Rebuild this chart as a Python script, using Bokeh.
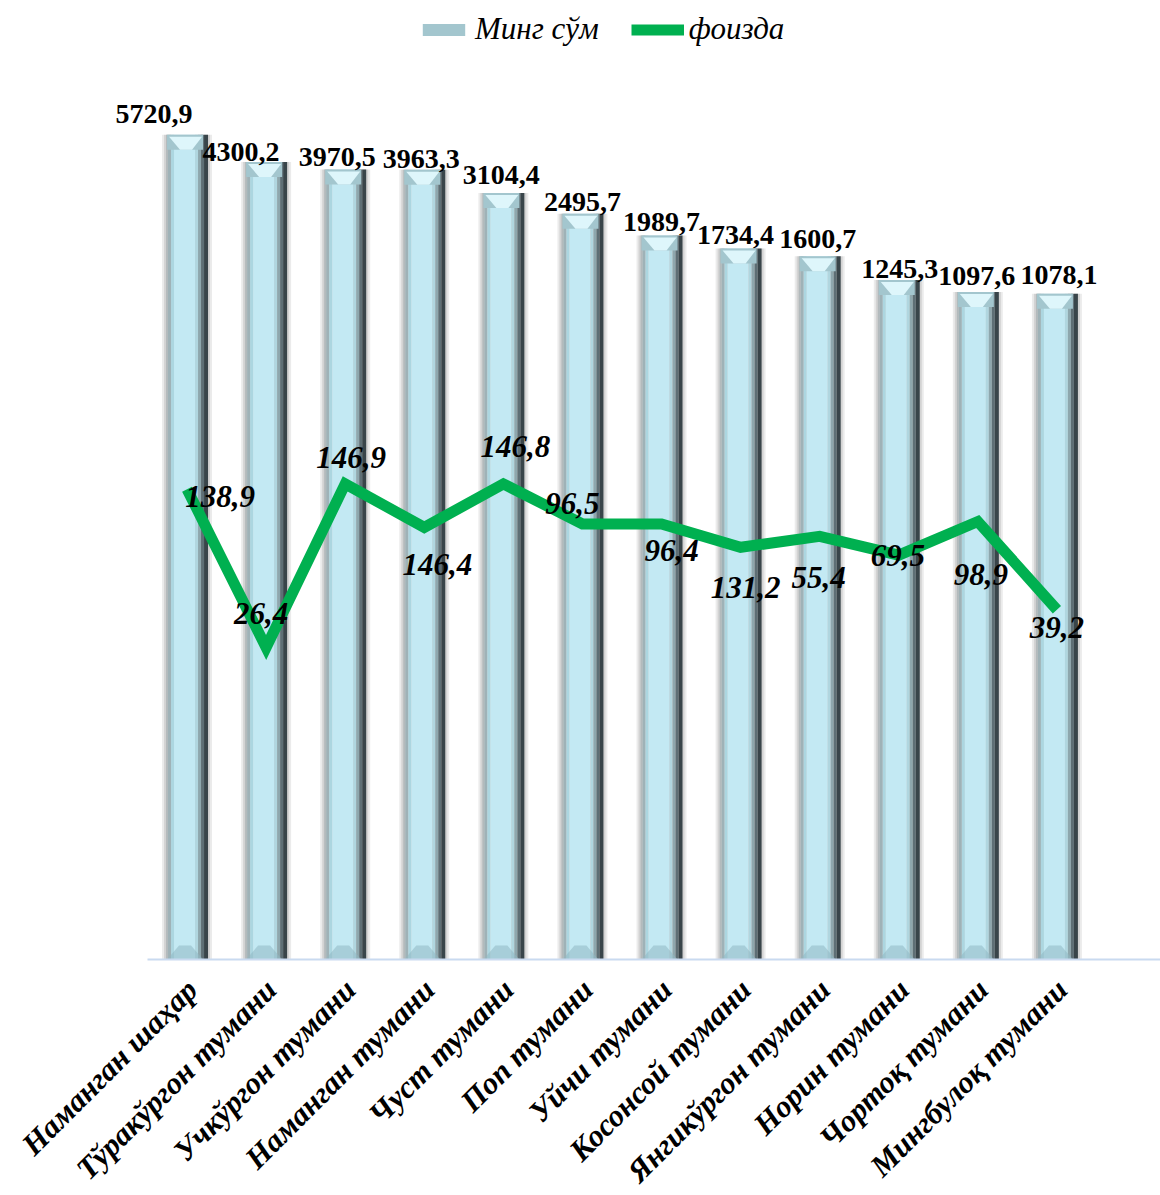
import math
from bokeh.plotting import figure
from bokeh.models import ColumnDataSource, Range1d, Legend, LegendItem
from bokeh.embed import file_html
from bokeh.resources import INLINE
from bokeh.core.properties import value

# ---------------- data ----------------
districts = ["Наманган шаҳар", "Тўракўргон тумани", "Учкўргон тумани",
             "Наманган тумани", "Чуст тумани", "Поп тумани", "Уйчи тумани",
             "Косонсой тумани", "Янгикўргон тумани", "Норин тумани",
             "Чортоқ тумани", "Мингбулоқ тумани"]
ming_sum = [5720.9, 4300.2, 3970.5, 3963.3, 3104.4, 2495.7, 1989.7,
            1734.4, 1600.7, 1245.3, 1097.6, 1078.1]
foizda_line = [138.9, 26.4, 146.9, 93.0, 146.8, 96.5, 96.4,
               75.5, 84.7, 69.5, 98.9, 39.2]
# data-label texts shown next to the line
foizda_labels = [138.9, 26.4, 146.9, 146.4, 146.8, 96.5, 96.4,
                 131.2, 55.4, 69.5, 98.9, 39.2]
legend_names = ["Минг сўм", "фоизда"]

# ---------------- styles / layout ----------------
W, H = 1160, 1195
AX_LEFT = 147          # px where the category axis starts
AX_BOTTOM = 959        # px of the baseline (value 1 on the log scale)
PX_PER_UNIT = 79.08
PX_PER_DEC = 219.5
PX = 1.0 / PX_PER_UNIT
XS = -0.5 - AX_LEFT / PX_PER_UNIT
XE = XS + W / PX_PER_UNIT
YS = 10 ** (-(H - AX_BOTTOM) / PX_PER_DEC)
YE = 10 ** (AX_BOTTOM / PX_PER_DEC)

def fy(px):
    return 10 ** (px / PX_PER_DEC)

FONT = "Liberation Serif"
GREEN = "#00b050"

# label nudges in screen px (right / down positive)
bar_label_dx = [-33, -25, -8, -3, -2, 0, 0, -5, -2, 1, -1, 2]
bar_label_dy = [-21, -10, -13, -11, -18, -12, -13, -14, -17, -11, -16, -19]
pct_label_dx = [33, -5, 6, 13, 12, -10, 10, 5, -1, -1, 3, 0]
pct_label_dy = [7, -34, -26, 37, -37, -20, 27, 40, 41, 0, 53, 18]

xs = list(range(len(districts)))

p = figure(width=W, height=H, output_backend="svg", toolbar_location=None,
           x_range=Range1d(XS, XE), y_range=Range1d(YS, YE),
           y_axis_type="log", min_border=0)
p.outline_line_color = None
p.xaxis.visible = False
p.yaxis.visible = False
p.xgrid.visible = False
p.ygrid.visible = False
p.background_fill_color = "white"
p.border_fill_color = "white"

# ---- bars (layered strips to imitate the cylinder shading) ----
BAR_W = 42
strips = [(2, "#b3babc"), (3, "#9fb2b7"), (3, "#acd6e0"), (21, "#c3e9f3"),
          (3, "#b0d6df"), (3, "#8ea7ad"), (3, "#5e6f75"), (4, "#39454a")]

bottoms = [1] * len(xs)
p.vbar(x=xs, top=ming_sum, bottom=bottoms, width=(BAR_W + 8) * PX,
       fill_color="#000000", fill_alpha=0.08, line_color=None)
p.vbar(x=xs, top=ming_sum, bottom=bottoms, width=(BAR_W + 4) * PX,
       fill_color="#000000", fill_alpha=0.10, line_color=None)
left = -BAR_W / 2
for w, c in strips:
    cx = [x + (left + w / 2) * PX for x in xs]
    p.vbar(x=cx, top=ming_sum, bottom=bottoms, width=w * PX,
           fill_color=c, line_color=None)
    left += w

# top bevel
top_xs, top_ys, bev_xs, bev_ys = [], [], [], []
for x, v in zip(xs, ming_sum):
    xl, xr = x - (BAR_W / 2 - 1) * PX, x + (BAR_W / 2 - 5) * PX
    top_xs.append([xl, xr, xr, xl])
    top_ys.append([v, v, v / fy(15), v / fy(15)])
    bev_xs.append([xl + 2 * PX, xr - 1 * PX, x + 5 * PX, x - 7 * PX])
    bev_ys.append([v / fy(2), v / fy(2), v / fy(15), v / fy(15)])
bar_cap = p.patches(top_xs, top_ys, fill_color="#a3c6ce", line_color=None)
p.patches(bev_xs, bev_ys, fill_color="#def6fb", line_color=None)
# bottom bevel
bb_xs, bb_ys = [], []
for x, v in zip(xs, ming_sum):
    xl, xr = x - (BAR_W / 2 - 1) * PX, x + (BAR_W / 2 - 5) * PX
    bb_xs.append([xl, xr, xr - 12 * PX, xl + 12 * PX])
    bb_ys.append([1, 1, fy(14), fy(14)])
p.patches(bb_xs, bb_ys, fill_color="#8fb8c2", fill_alpha=0.55, line_color=None)

# category axis line
p.segment(x0=[-0.5], y0=[1], x1=[XE], y1=[1], line_color="#c9daf0",
          line_width=2)

# ---- line ----
pct_line = p.line(xs, foizda_line, line_color=GREEN, line_width=11,
                  line_join="miter", line_cap="butt")

# ---- labels ----
bar_src = ColumnDataSource(dict(
    x=xs, y=ming_sum,
    t=[f"{v:.1f}".replace(".", ",") for v in ming_sum],
    dx=bar_label_dx, dy=bar_label_dy))
p.text(x="x", y="y", text="t", x_offset="dx", y_offset="dy", source=bar_src,
       text_font=value(FONT), text_font_style="bold", text_font_size="28px",
       text_align="center", text_baseline="middle", text_color="black")

pct_src = ColumnDataSource(dict(
    x=xs, y=foizda_line,
    t=[f"{v:.1f}".replace(".", ",") for v in foizda_labels],
    dx=pct_label_dx, dy=pct_label_dy))
p.text(x="x", y="y", text="t", x_offset="dx", y_offset="dy", source=pct_src,
       text_font=value(FONT), text_font_style="bold italic",
       text_font_size="31px", text_align="center", text_baseline="middle",
       text_color="black")

# category labels, rotated 45 degrees under the axis line
cat_src = ColumnDataSource(dict(x=xs, y=bottoms, t=districts))
p.text(x="x", y="y", text="t", x_offset=5, y_offset=25, angle=math.pi / 4,
       source=cat_src, text_font=value(FONT), text_font_style="bold italic",
       text_font_size="31px", text_align="right", text_baseline="middle",
       text_color="black")

# ---- legend ----
legend = Legend(items=[LegendItem(label=legend_names[0], renderers=[bar_cap]),
                       LegendItem(label=legend_names[1], renderers=[pct_line])],
                orientation="horizontal", location=(417, H - 47),
                glyph_width=53, glyph_height=15, label_standoff=5, spacing=32,
                padding=0, margin=0, border_line_color=None,
                background_fill_alpha=0,
                label_text_font=FONT, label_text_font_style="italic",
                label_text_font_size="31px", label_text_color="black")
p.add_layout(legend, "center")

open("out.html", "w").write(file_html(p, INLINE))
